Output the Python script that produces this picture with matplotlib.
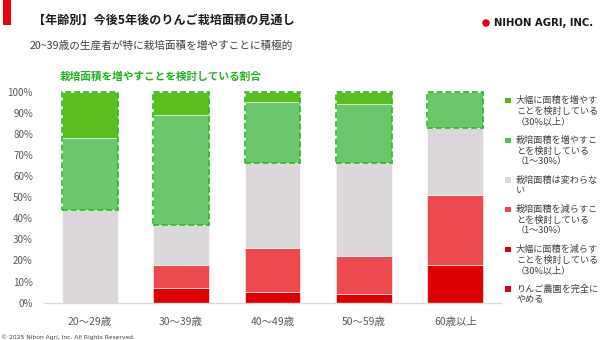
import matplotlib
matplotlib.use("Agg")
import matplotlib.pyplot as plt
from matplotlib.patches import Rectangle, Ellipse
import numpy as np

plt.rcParams['font.family'] = ['Noto Sans CJK JP', 'DejaVu Sans']

# ---- data ----
categories = ['20〜29歳', '30〜39歳', '40〜49歳', '50〜59歳', '60歳以上']
quit_farm = [0, 0, 0, 0, 0]
big_decrease = [0, 7, 5, 4, 18]
decrease = [0, 11, 21, 18, 33]
unchanged = [44, 19, 40, 44, 32]
increase = [34, 52, 29, 28, 17]
big_increase = [22, 11, 5, 6, 0]
y_ticks = [0, 10, 20, 30, 40, 50, 60, 70, 80, 90, 100]

legend_labels = [
    '大幅に面積を増やす\nことを検討している\n（30%以上）',
    '栽培面積を増やすこ\nとを検討している\n（1〜30%）',
    '栽培面積は変わらな\nい',
    '栽培面積を減らすこ\nとを検討している\n（1〜30%）',
    '大幅に面積を減らす\nことを検討している\n（30%以上）',
    'りんご農園を完全に\nやめる',
]

# stacked from bottom to top
series = [quit_farm, big_decrease, decrease, unchanged, increase, big_increase]
bar_colors = ['#E60012', '#DE0000', '#EC4A4F', '#DCD7DA', '#6CC66C', '#5CBE1E']
legend_colors = ['#4CB81C', '#52C452', '#D9D9D9', '#EB4B4E', '#D40000', '#E60012']

W, H = 600, 340
fig = plt.figure(figsize=(W / 100, H / 100), dpi=100)


def fx(x):
    return x / W


def fy(y):
    return 1 - y / H


ax = fig.add_axes([fx(44), fy(302.7), fx(501) - fx(44), fy(91.7) - fy(302.7)])

x = np.arange(len(categories))
bar_w = 0.61
bottom = np.zeros(len(categories))
for vals, col in zip(series, bar_colors):
    v = np.array(vals, dtype=float) / 100
    mask = v > 0
    ax.bar(x[mask], v[mask], bar_w, bottom=bottom[mask], color=col,
           edgecolor='white', linewidth=0.4, zorder=2)
    bottom += v

# dashed outline around the "increase" share of each bar
inc_total = (np.array(increase) + np.array(big_increase)) / 100
for xi, share in zip(x, inc_total):
    ax.add_patch(Rectangle((xi - bar_w / 2, 1 - share), bar_w, share,
                           fill=False, edgecolor='#22BB22', linewidth=1.2,
                           linestyle=(0, (3.5, 1.8)), zorder=4, clip_on=False))

ax.set_xlim(-0.5, len(categories) - 0.5)
ax.set_ylim(0, 1.0)
ax.set_yticks([t / 100 for t in y_ticks])
ax.set_yticklabels([f'{t}%' for t in y_ticks])
ax.set_xticks(x)
ax.set_xticklabels(categories)
ax.tick_params(axis='y', length=0, pad=8, labelsize=7, labelcolor='#595959')
ax.tick_params(axis='x', length=0, pad=10, labelsize=7.5, labelcolor='#595959')
for s in ['top', 'right', 'left']:
    ax.spines[s].set_visible(False)
ax.spines['bottom'].set_color('#D9D9D9')
ax.spines['bottom'].set_linewidth(1.0)

# header
fig.add_artist(Rectangle((fx(3), fy(25)), fx(10.5) - fx(3), fy(0) - fy(25),
                         transform=fig.transFigure, color='#E60012', lw=0))
fig.text(fx(33), fy(20), '【年齢別】今後5年後のりんご栽培面積の見通し',
         fontsize=8.7, fontweight='bold', color='#1A1A1A', va='center', ha='left')
fig.text(fx(30), fy(46), '20~39歳の生産者が特に栽培面積を増やすことに積極的',
         fontsize=7.7, color='#404040', va='center', ha='left')
fig.text(fx(60), fy(77), '栽培面積を増やすことを検討している割合',
         fontsize=7.7, fontweight='bold', color='#22B022', va='center', ha='left')

# logo
fig.add_artist(Ellipse((fx(486), fy(23)), 7.5 / W, 7.5 / H,
                       transform=fig.transFigure, color='#E60012', lw=0))
fig.text(fx(494), fy(23), 'NIHON AGRI, INC.', fontsize=7.3, fontweight='bold',
         family='DejaVu Sans', color='#1A1A1A', va='center', ha='left')

# copyright
fig.text(fx(1), fy(337), '© 2025 Nihon Agri, Inc. All Rights Reserved.',
         fontsize=4.3, family='DejaVu Sans', color='#404040', va='center', ha='left')

# legend
line_h = 10.5
y0 = 100.7
for label, col in zip(legend_labels, legend_colors):
    fig.add_artist(Rectangle((fx(505), fy(y0 + 2.6)), 5.5 / W, 5.5 / H,
                             transform=fig.transFigure, color=col, lw=0))
    lines = label.split('\n')
    for i, line in enumerate(lines):
        fig.text(fx(516), fy(y0 + i * line_h), line, fontsize=6.6,
                 color='#404040', va='center', ha='left')
    y0 += len(lines) * line_h + 8.3

fig.savefig('out.png', dpi=100)
